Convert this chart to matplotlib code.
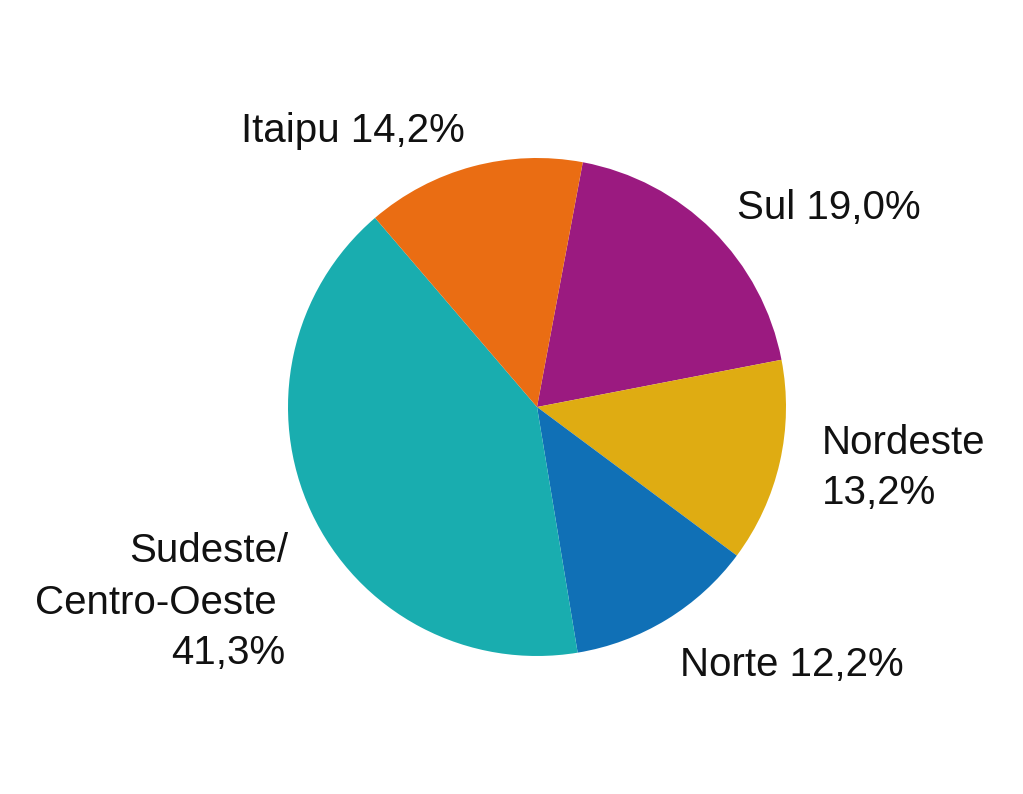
import matplotlib
matplotlib.use("Agg")
import matplotlib.pyplot as plt

# Data
regions = ["Sul", "Nordeste", "Norte", "Sudeste/Centro-Oeste", "Itaipu"]
shares = [19.0, 13.2, 12.2, 41.3, 14.2]
colors = ["#9B1A80", "#DFAC12", "#1070B6", "#19ADAF", "#EA6D13"]

W, H = 1023, 794
fig = plt.figure(figsize=(W / 100, H / 100), dpi=100)
fig.patch.set_facecolor("white")

cx, cy, r = 537, 407, 249
ax = fig.add_axes([(cx - r) / W, (H - cy - r) / H, 2 * r / W, 2 * r / H])
ax.pie(shares, colors=colors, startangle=79.4, counterclock=False,
       radius=1.0, wedgeprops=dict(linewidth=0))
ax.set_xlim(-1, 1)
ax.set_ylim(-1, 1)
ax.axis("off")

FONT = "Liberation Sans"
FS = 29


def put(txt, px, py, ha):
    fig.text(px / W, 1 - py / H, txt, ha=ha, va="baseline",
             fontsize=FS, family=FONT, color="#111111")


# Labels: (text, x px, baseline y px, alignment)
put("Itaipu 14,2%", 353, 142, "center")
put("Sul 19,0%", 737, 219, "left")
put("Nordeste", 822, 454, "left")
put("13,2%", 822, 504, "left")
put("Norte 12,2%", 680, 676, "left")
put("Sudeste/", 288, 562, "right")
put("Centro-Oeste", 277, 614, "right")
put("41,3%", 285, 664, "right")

fig.savefig("out.png", dpi=100, facecolor="white")
